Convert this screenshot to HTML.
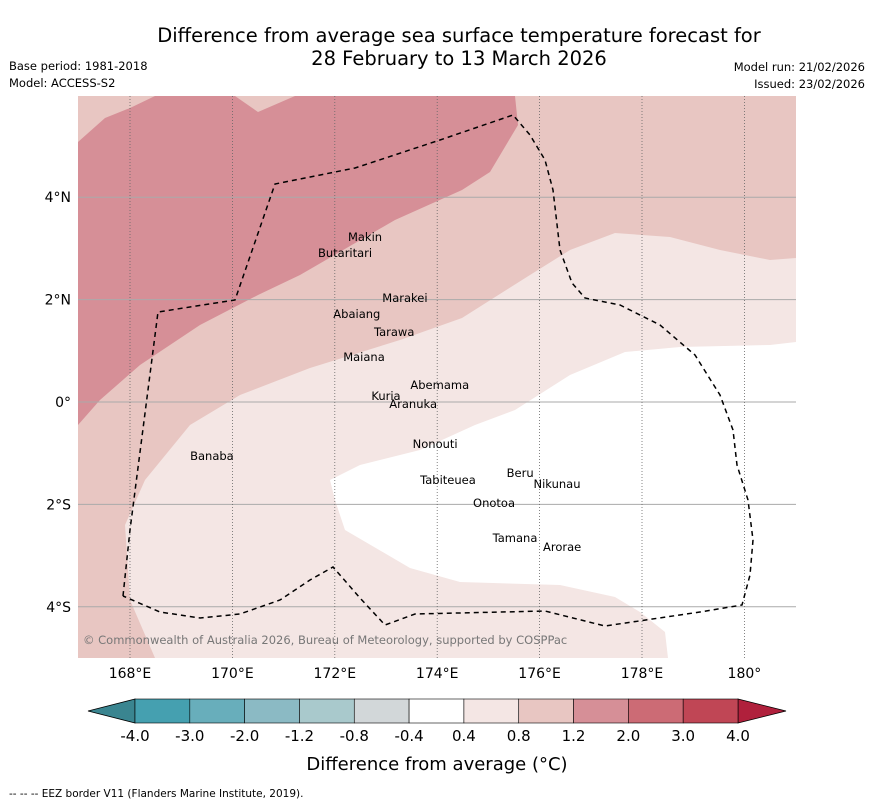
<!DOCTYPE html>
<html><head><meta charset="utf-8"><style>
body{margin:0;background:#fff;width:873px;height:804px;overflow:hidden;font-family:"DejaVu Sans","Liberation Sans",sans-serif;}
svg text{font-family:"DejaVu Sans","Liberation Sans",sans-serif;}
</style></head><body>
<svg id="c" width="873" height="804" xmlns="http://www.w3.org/2000/svg">
<text x="459" y="42" font-size="19.5" text-anchor="middle">Difference from average sea surface temperature forecast for</text>
<text x="459" y="65" font-size="19.5" text-anchor="middle">28 February to 13 March 2026</text>
<text x="9" y="70" font-size="11.5">Base period: 1981-2018</text>
<text x="9" y="87" font-size="11.5">Model: ACCESS-S2</text>
<text x="865" y="71" font-size="11.5" text-anchor="end">Model run: 21/02/2026</text>
<text x="865" y="88" font-size="11.5" text-anchor="end">Issued: 23/02/2026</text>
<g id="map">
<rect x="78" y="96" width="718" height="562" fill="#f4e6e4"/>
<polygon fill="#e8c6c2" points="78,96 796,96 796,258 770,260 720,250 670,237 615,233 570,250 530,275 462,318 400,340 310,368 240,395 190,425 145,480 125,525 130,600 155,658 78,658"/>
<polygon fill="#d68f97" points="155,96 235,96 258,112 295,96 515,96 518,125 490,172 462,190 395,220 300,275 258,295 200,325 140,365 100,400 78,425 78,142 105,118 130,108"/>
<polygon fill="#ffffff" points="330,480 360,465 420,450 475,425 515,410 570,375 625,352 680,347 770,345 796,342 796,658 668,658 665,632 640,612 615,597 560,585 460,582 410,568 345,530 335,500"/>
</g>
<g id="grid"></g>
<polyline fill="none" stroke="#000" stroke-width="1.5" stroke-dasharray="5,4" points="123,596 130,530 158,312 235,300 275,184 355,168 440,140 513,115 530,135 545,160 553,190 560,250 572,283 585,298 620,305 660,325 695,355 720,395 733,430 737,465 748,500 753,540 750,575 742,605 700,612 605,626 545,611 415,614 385,625 360,598 333,567 310,580 280,600 240,614 200,618 160,612 123,596"/>
<g id="islands" font-size="11.5" fill="#000"></g>
<text x="83" y="644" font-size="11.5" fill="#777">© Commonwealth of Australia 2026, Bureau of Meteorology, supported by COSPPac</text>
<g id="cb"></g>
<text x="437" y="770" font-size="18" text-anchor="middle">Difference from average (°C)</text>
<text x="9" y="797" font-size="10.5">--  --  -- EEZ border V11 (Flanders Marine Institute, 2019).</text>
</svg>
<script>
const NS="http://www.w3.org/2000/svg";
const lonTicks=[168,170,172,174,176,178,180];
const lonLabels=["168°E","170°E","172°E","174°E","176°E","178°E","180°"];
const latTicks=[4,2,0,-2,-4];
const latLabels=["4°N","2°N","0°","2°S","4°S"];
const levels=["-4.0","-3.0","-2.0","-1.2","-0.8","-0.4","0.4","0.8","1.2","2.0","3.0","4.0"];
const binColors=["#45a0b0","#68aebb","#8bbac4","#a9c9cc","#d2d7d9","#ffffff","#f4e6e4","#e8c6c2","#d68f97","#cc6b75","#c04655"];
const islandNames=["Makin","Butaritari","Marakei","Abaiang","Tarawa","Maiana","Abemama","Kuria","Aranuka","Nonouti","Banaba","Tabiteuea","Beru","Nikunau","Onotoa","Tamana","Arorae"];
const islandLon=[172.59,172.2,173.37,172.43,173.16,172.57,174.05,173.0,173.53,173.96,169.6,174.21,175.62,176.34,175.11,175.52,176.44];
const islandLat=[3.30,2.99,2.11,1.80,1.45,0.96,0.41,0.20,0.04,-0.74,-0.98,-1.45,-1.31,-1.52,-1.89,-2.58,-2.75];
const X=lon=>130+(lon-168)*51.2, Y=lat=>402-lat*51.2;
function mk(t,a,p){const e=document.createElementNS(NS,t);for(const k in a)e.setAttribute(k,a[k]);p.appendChild(e);return e;}
const g=document.getElementById('grid');
latTicks.forEach((v,i)=>{
 const l=mk('line',{x1:78,x2:796,y1:Y(v),y2:Y(v),stroke:'#aaa','stroke-width':1},g);
 
 
 const t=mk('text',{x:71,y:Y(v)+5,'font-size':14,'text-anchor':'end'},g);t.textContent=latLabels[i];
 
 
});
lonTicks.forEach((v,i)=>{
 const l=mk('line',{x1:X(v),x2:X(v),y1:96,y2:658,stroke:'#666','stroke-width':0.8,'stroke-dasharray':'1,2'},g);
 
 
 const t=mk('text',{x:X(v),y:678,'font-size':14,'text-anchor':'middle'},g);t.textContent=lonLabels[i];
 
 
});
const isl=document.getElementById('islands');
islandNames.forEach((n,i)=>{
 const t=mk('text',{x:X(islandLon[i]),y:Y(islandLat[i])+8,'text-anchor':'middle'},isl);t.textContent=n;
 
 
});
const cb=document.getElementById('cb');
const x0=135,x1=738,w=(x1-x0)/binColors.length,cy0=699,cy1=723;
const lt=mk('polygon',{points:`${x0},${cy0} 88,711 ${x0},${cy1}`,fill:'#3a8590',stroke:'#000','stroke-width':0.8},cb);


const rt=mk('polygon',{points:`${x1},${cy0} 786,711 ${x1},${cy1}`,fill:'#b0203c',stroke:'#000','stroke-width':0.8},cb);


binColors.forEach((c,i)=>{
 const r=mk('rect',{x:x0+i*w,y:cy0,width:w,height:cy1-cy0,fill:c,stroke:'#000','stroke-width':0.6},cb);
 
 
});
levels.forEach((s,i)=>{
 const t=mk('text',{x:x0+i*w,y:741,'font-size':15,'text-anchor':'middle'},cb);t.textContent=s;
 
 
});
</script>
</body></html>
